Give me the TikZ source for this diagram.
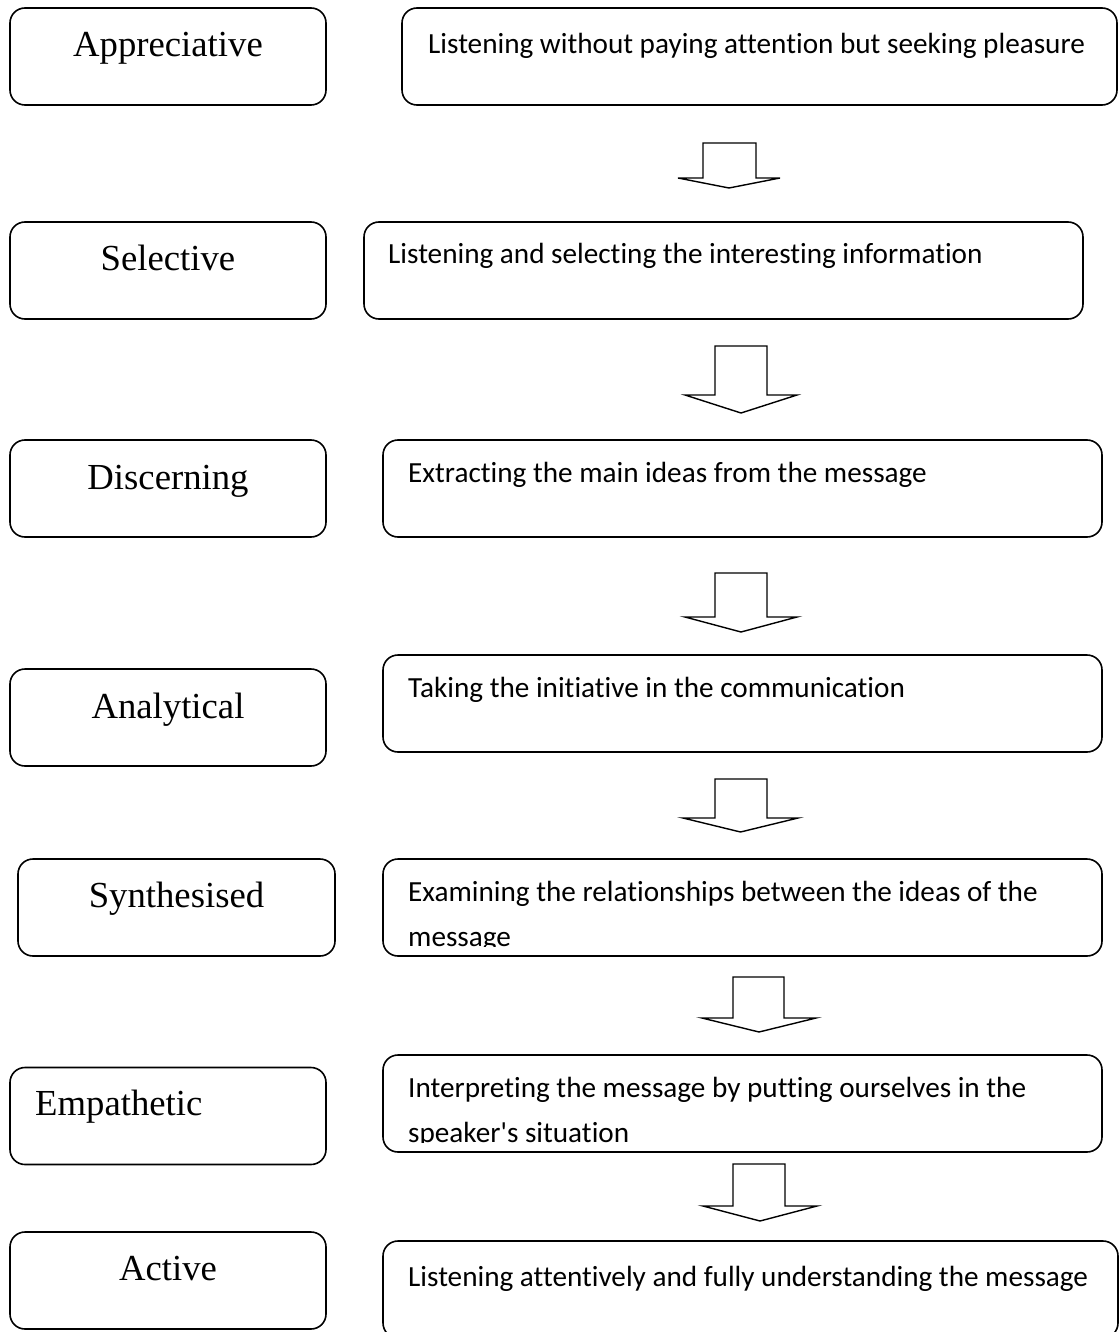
\documentclass[tikz,border=0pt]{standalone}
\usepackage{fontspec}
\setmainfont{Liberation Serif}
\newfontfamily\bodyfont[Ligatures=NoCommon]{Carlito}
% hollow block arrow: shaft left, shaft right, shaft top, head base, tip, head left, head right
\newcommand\flowarrow[7]{%
  \draw[flow] (#1,#3) -- (#2,#3) -- (#2,#4) -- (#7,#4)
    -- ({(#6+#7)/2},#5) -- (#6,#4) -- (#1,#4) -- cycle;}
\begin{document}
\begin{tikzpicture}[x=1pt,y=-1pt,
  stage/.style={draw=black, line width=1.6pt, rounded corners=15pt, inner sep=0pt,
    minimum height=97pt},
  kind/.style={stage, minimum width=316pt},
  info/.style={stage, minimum width=719pt},
  label/.style={inner sep=0pt, anchor=base, font=\fontsize{36.7}{44}\selectfont},
  desc/.style={inner sep=0pt, anchor=base west, font=\bodyfont\fontsize{29.2}{35}\selectfont},
  flow/.style={draw=black, line width=1.4pt, fill=white, line join=miter}]
\useasboundingbox (0,0) rectangle (1119,1332);

% listening types (left column)
\node[kind] (k1) at (168,56.5) {};
\node[kind] (k2) at (168,270.5) {};
\node[kind] (k3) at (168,488.5) {};
\node[kind] (k4) at (168,717.5) {};
\node[kind, minimum width=317pt] (k5) at (176.5,907.5) {};
\node[kind] (k6) at (168,1116) {};
\node[kind] (k7) at (168,1280.5) {};

\node[label] (t1) at (168,57) {Appreciative};
\node[label] (t2) at (168,270) {Selective};
\node[label] (t3) at (168,489) {Discerning};
\node[label] (t4) at (168,718) {Analytical};
\node[label] (t5) at (176.5,907) {Synthesised};
\node[label, anchor=base west] (t6) at (35,1115) {Empathetic};
\node[label] (t7) at (168,1280) {Active};

% descriptions (right column)
\node[info, minimum width=715pt] (d1) at (759.5,56.5) {};
\node[info] (d2) at (723.5,270.5) {};
\node[info] (d3) at (742.5,488.5) {};
\node[info] (d4) at (742.5,703.5) {};
\node[info] (d5) at (742.5,907.5) {};
\node[info] (d6) at (742.5,1103.5) {};
\node[info, minimum width=735pt] (d7) at (750.5,1289.5) {};

\node[desc] (s1) at (428,54) {Listening without paying attention but seeking pleasure};
\node[desc] (s2) at (388,263) {Listening and selecting the interesting information};
\node[desc] (s3) at (408,482) {Extracting the main ideas from the message};
\node[desc] (s4) at (408,697) {Taking the initiative in the communication};
\begin{scope}
  \clip (383,859) rectangle (1102,946);
  \node[desc] (s5a) at (408,901) {Examining the relationships between the ideas of the};
  \node[desc] (s5b) at (408,946) {message};
\end{scope}
\begin{scope}
  \clip (383,1055) rectangle (1102,1142);
  \node[desc] (s6a) at (408,1097) {Interpreting the message by putting ourselves in the};
  \node[desc] (s6b) at (408,1142) {speaker's situation};
\end{scope}
\node[desc] (s7) at (408,1286) {Listening attentively and fully understanding the message};

% downward block arrows between the descriptions
\flowarrow{703}{756}{143}{178}{188}{678}{780}
\flowarrow{715}{767}{346}{395}{413}{685}{797}
\flowarrow{715}{767}{573}{617}{632}{685}{797}
\flowarrow{715}{767}{779}{818}{832}{683}{798}
\flowarrow{733}{784}{977}{1018}{1032}{702}{816}
\flowarrow{733}{785}{1164}{1206}{1221}{703}{817}
\end{tikzpicture}
\end{document}
